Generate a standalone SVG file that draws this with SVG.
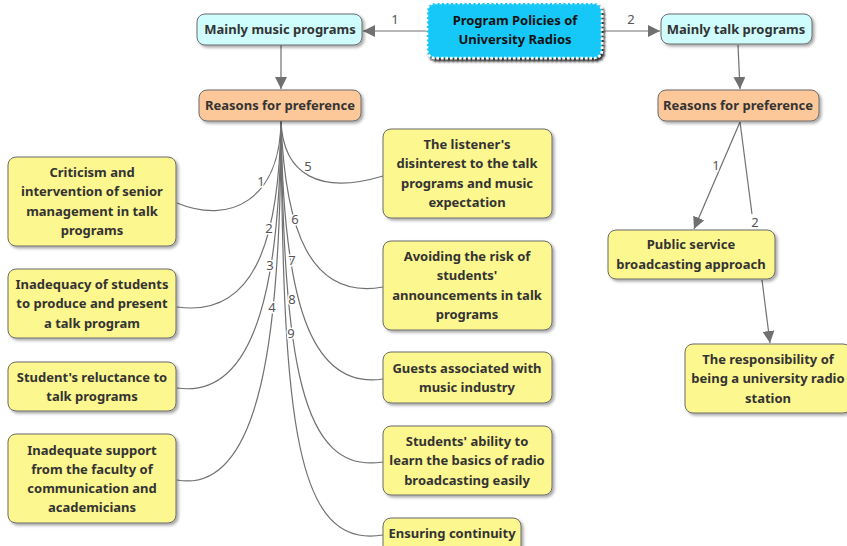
<svg xmlns="http://www.w3.org/2000/svg" width="847" height="546" viewBox="0 0 847 546">
<style>
.n{stroke:#6b6b6b;stroke-width:1;filter:url(#sh)}
.y{fill:#fdf78f}
.c{fill:#cffdfd}
.o{fill:#fdc899}
.t{font-family:"Noto Sans","Open Sans","DejaVu Sans",sans-serif;font-weight:bold;font-size:13px;fill:#333;text-anchor:middle}
.e{fill:none;stroke:#707070;stroke-width:1.2}
.l{font-family:"Noto Sans","Open Sans","DejaVu Sans",sans-serif;font-size:13px;fill:#555;text-anchor:middle;paint-order:stroke;stroke:#fff;stroke-width:3px}
</style>
<defs>
<filter id="sh" x="-10%" y="-10%" width="130%" height="140%"><feDropShadow dx="2" dy="2" stdDeviation="1.5" flood-color="#000" flood-opacity="0.35"/></filter>
<filter id="sh2" x="-10%" y="-10%" width="130%" height="140%"><feDropShadow dx="2" dy="3" stdDeviation="1.2" flood-color="#000" flood-opacity="0.8"/></filter>
<marker id="a" viewBox="0 0 12 12" refX="12" refY="6" markerWidth="12" markerHeight="12" markerUnits="userSpaceOnUse" orient="auto"><path d="M0,0 L12,6 L0,12 z" fill="#707070"/></marker>
</defs>
<g id="connectors">
<path class="e" d="M427,31 L363,31" marker-end="url(#a)"/>
<text class="l" x="395" y="24">1</text>
<path class="e" d="M602,31 L660,31" marker-end="url(#a)"/>
<text class="l" x="631" y="24">2</text>
<path class="e" d="M281,45 L281,89" marker-end="url(#a)"/>
<path class="e" d="M738,45 L740,89" marker-end="url(#a)"/>
<path class="e" d="M281,121 C280,200 230,225 177,203"/>
<path class="e" d="M281,121 C283,175 320,195 383,176"/>
<path class="e" d="M281,121 C279,240 255,318 177,307"/>
<path class="e" d="M281,121 C280,270 260,400 177,388"/>
<path class="e" d="M281,121 C281,330 262,495 177,480"/>
<path class="e" d="M281,121 C285,230 310,300 383,287"/>
<path class="e" d="M281,121 C283,300 310,390 383,379"/>
<path class="e" d="M281,121 C284,360 300,475 383,462"/>
<path class="e" d="M281,121 C283,420 295,550 383,535"/>
<text class="l" x="261" y="186">1</text>
<text class="l" x="308" y="171">5</text>
<text class="l" x="269" y="233">2</text>
<text class="l" x="295" y="224">6</text>
<text class="l" x="270" y="270">3</text>
<text class="l" x="292" y="265">7</text>
<text class="l" x="272" y="312">4</text>
<text class="l" x="292" y="304">8</text>
<text class="l" x="291" y="338">9</text>
<path class="e" d="M740,122 L694,229" marker-end="url(#a)"/>
<path class="e" d="M740,122 L752,214"/>
<text class="l" x="716" y="170">1</text>
<text class="l" x="755" y="227">2</text>
<path class="e" d="M762,280 L770,343" marker-end="url(#a)"/>
</g>
<g id="root">
<rect x="427" y="3" width="175" height="55" rx="8" fill="#19c8f7" stroke="#fff" stroke-width="2.5" stroke-dasharray="2.5,2" filter="url(#sh2)"/>
<text class="t" style="fill:#111" x="515" y="25">Program Policies of</text>
<text class="t" style="fill:#111" x="515" y="44">University Radios</text>
</g>
<g id="music"><rect class="n c" x="197" y="14" width="165" height="31" rx="8"/><text class="t" x="280" y="34">Mainly music programs</text></g>
<g id="talk"><rect class="n c" x="661" y="14" width="151" height="30" rx="8"/><text class="t" x="736" y="34">Mainly talk programs</text></g>
<g id="reasons1"><rect class="n o" x="199" y="90" width="162" height="31" rx="8"/><text class="t" x="280" y="110">Reasons for preference</text></g>
<g id="reasons2"><rect class="n o" x="658" y="90" width="161" height="31" rx="8"/><text class="t" x="738" y="110">Reasons for preference</text></g>
<g id="l1"><rect class="n y" x="8" y="157" width="168" height="89" rx="8"/><text class="t" x="92" y="177">Criticism and</text><text class="t" x="92" y="196">intervention of senior</text><text class="t" x="92" y="216">management in talk</text><text class="t" x="92" y="235">programs</text></g>
<g id="l2"><rect class="n y" x="8" y="269" width="168" height="69" rx="8"/><text class="t" x="92" y="289">Inadequacy of students</text><text class="t" x="92" y="308">to produce and present</text><text class="t" x="92" y="328">a talk program</text></g>
<g id="l3"><rect class="n y" x="8" y="362" width="168" height="49" rx="8"/><text class="t" x="92" y="382">Student's reluctance to</text><text class="t" x="92" y="401">talk programs</text></g>
<g id="l4"><rect class="n y" x="8" y="434" width="168" height="89" rx="8"/><text class="t" x="92" y="455">Inadequate support</text><text class="t" x="92" y="474">from the faculty of</text><text class="t" x="92" y="493">communication and</text><text class="t" x="92" y="512">academicians</text></g>
<g id="r5"><rect class="n y" x="383" y="129" width="169" height="89" rx="8"/><text class="t" x="467" y="149">The listener's</text><text class="t" x="467" y="168">disinterest to the talk</text><text class="t" x="467" y="188">programs and music</text><text class="t" x="467" y="207">expectation</text></g>
<g id="r6"><rect class="n y" x="383" y="241" width="169" height="89" rx="8"/><text class="t" x="467" y="261">Avoiding the risk of</text><text class="t" x="467" y="280">students'</text><text class="t" x="467" y="300">announcements in talk</text><text class="t" x="467" y="319">programs</text></g>
<g id="r7"><rect class="n y" x="383" y="352" width="169" height="51" rx="8"/><text class="t" x="467" y="373">Guests associated with</text><text class="t" x="467" y="392">music industry</text></g>
<g id="r8"><rect class="n y" x="383" y="426" width="169" height="69" rx="8"/><text class="t" x="467" y="446">Students' ability to</text><text class="t" x="467" y="465">learn the basics of radio</text><text class="t" x="467" y="485">broadcasting easily</text></g>
<g id="r9"><rect class="n y" x="383" y="518" width="138" height="40" rx="8"/><text class="t" x="452" y="538">Ensuring continuity</text></g>
<g id="psb"><rect class="n y" x="608" y="230" width="167" height="49" rx="8"/><text class="t" x="691" y="249">Public service</text><text class="t" x="691" y="269">broadcasting approach</text></g>
<g id="resp"><rect class="n y" x="685" y="344" width="166" height="69" rx="8"/><text class="t" x="768" y="364">The responsibility of</text><text class="t" x="768" y="383">being a university radio</text><text class="t" x="768" y="403">station</text></g>
</svg>
